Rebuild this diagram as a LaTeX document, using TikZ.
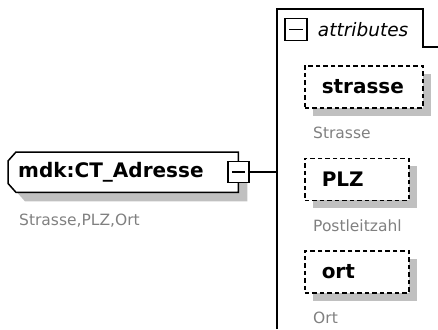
\documentclass[tikz,border=0pt]{standalone}
\usepackage{fontspec}
\setmainfont{DejaVu Sans}
\usepackage{tikz}
\usetikzlibrary{positioning,shadows,backgrounds}
\usepackage{xcolor}

\definecolor{shade}{RGB}{192,192,192}
\definecolor{annot}{RGB}{128,128,128}

\tikzset{
    elem/.style={draw, line width=1.5pt, dash pattern=on 4.5pt off 3pt, fill=white,
        drop shadow={shadow xshift=8pt, shadow yshift=-8pt, fill=shade, opacity=1},
        font=\fontsize{20}{24}\selectfont\bfseries, minimum height=42pt,
        inner xsep=17pt, text width=70pt, align=left, anchor=north west},
    annotation/.style={text=annot, font=\fontsize{15.5}{18}\selectfont, anchor=base west, inner sep=0pt},
    minus/.style={draw, line width=1.5pt, fill=white, minimum size=21pt, inner sep=0pt,
        path picture={\draw[line width=1.6pt] ([xshift=4pt]path picture bounding box.west)
            -- ([xshift=-4pt]path picture bounding box.east);}},
    wire/.style={line width=1.5pt}
}

\begin{document}
\begin{tikzpicture}[x=1pt, y=-1pt]
    \useasboundingbox (0,0) rectangle (438,329);

    % Complex type
    \node[anchor=north west, minimum width=230pt, minimum height=40pt, inner xsep=10pt,
        text width=210pt, align=left, font=\fontsize{20}{24}\selectfont\bfseries]
        (root) at (8,152) {mdk:CT\_Adresse};
    \begin{scope}[on background layer]
        \draw[wire, fill=white, drop shadow={shadow xshift=9pt, shadow yshift=-9pt, fill=shade, opacity=1}]
            ([xshift=8pt]root.north west) -- (root.north east) -- (root.south east)
            -- ([xshift=8pt]root.south west) -- ([yshift=9pt]root.south west)
            -- ([yshift=-9pt]root.north west) -- cycle;
    \end{scope}
    \node[minus] (rootbtn) at (root.east) {};
    \node[annotation] (rootlbl) at ([shift={(11pt,-33pt)}]root.south west) {Strasse,PLZ,Ort};

    % Attribute group
    \coordinate (trunk) at (277,9);
    \draw[wire] (trunk |- 0,329) -- (trunk) -| (423,47) -- (438,47);
    \node[minus, minimum size=22pt] (attbtn) at (296,29.5) {};
    \node[right=10pt of attbtn, inner sep=0pt, font=\fontsize{18.5}{22}\selectfont\itshape] (atttitle) {attributes};
    \draw[wire] (rootbtn) -- (rootbtn -| trunk);

    % Attributes
    \node[elem, text width=84pt] (strasse) at (304,65) {strasse};
    \node[elem, below=49pt of strasse.south west, anchor=north west] (plz) {PLZ};
    \node[elem, below=49pt of plz.south west, anchor=north west] (ort) {ort};

    \node[annotation] (strasselbl) at ([shift={(9pt,-30pt)}]strasse.south west) {Strasse};
    \node[annotation] (plzlbl) at ([shift={(9pt,-30pt)}]plz.south west) {Postleitzahl};
    \node[annotation] (ortlbl) at ([shift={(9pt,-30pt)}]ort.south west) {Ort};
\end{tikzpicture}
\end{document}
